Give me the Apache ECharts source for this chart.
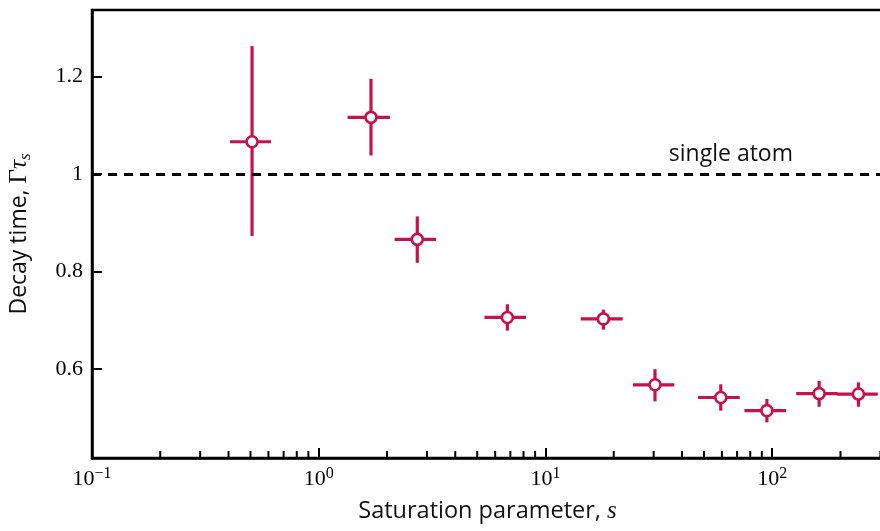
<!DOCTYPE html>
<html>
<head>
    <meta charset="UTF-8">
    <title>Decay time vs saturation</title>
    <script src="https://cdn.jsdelivr.net/npm/echarts@6/dist/echarts.min.js"></script>
    <style>
        html, body { margin: 0; padding: 0; background: #fff; }
        #main { width: 880px; height: 531px; }
    </style>
</head>
<body>
<div id="main"></div>
<script>
    // saturation parameter s (centre, lower, upper)
    var sVal  = [0.508, 1.70, 2.72, 6.79, 18.0, 30.4, 59.3, 94.7, 161, 240];
    var sLow  = [0.406, 1.34, 2.16, 5.38, 14.3, 24.3, 47.1, 75.4, 127.5, 193];
    var sHigh = [0.616, 2.06, 3.29, 8.21, 21.9, 37.0, 71.9, 115.2, 194, 292];
    // decay time (centre, lower, upper)
    var tauVal  = [1.066, 1.116, 0.866, 0.706, 0.703, 0.568, 0.542, 0.515, 0.550, 0.549];
    var tauLow  = [0.873, 1.038, 0.818, 0.679, 0.681, 0.534, 0.515, 0.491, 0.523, 0.523];
    var tauHigh = [1.262, 1.195, 0.913, 0.733, 0.722, 0.600, 0.569, 0.539, 0.576, 0.573];
    // minor ticks of the log axis
    var minorTicks = [0.2, 0.3, 0.4, 0.5, 0.6, 0.7, 0.8, 0.9,
        2, 3, 4, 5, 6, 7, 8, 9,
        20, 30, 40, 50, 60, 70, 80, 90,
        200, 300];
    var yLabels = [0.6, 0.8, 1, 1.2];
    var singleAtom = 1;

    var red = '#c8114b';
    var yMin = 0.418, yMax = 1.336;

    var barData = [], pointData = [];
    for (var i = 0; i < sVal.length; i++) {
        barData.push([sVal[i], tauVal[i], sLow[i], sHigh[i], tauLow[i], tauHigh[i]]);
        pointData.push([sVal[i], tauVal[i]]);
    }

    var myChart = echarts.init(document.getElementById('main'));
    var option = {
        animation: false,
        backgroundColor: '#fff',
        grid: {
            left: 92, top: 10, right: -3, bottom: 73,
            show: true, borderColor: '#000', borderWidth: 2.5,
            containLabel: false, outerBoundsMode: 'none'
        },
        xAxis: {
            type: 'log',
            min: 0.1,
            max: 308,
            name: '{a|Saturation parameter, }{s|s}',
            nameLocation: 'middle',
            nameGap: 41,
            nameTextStyle: {
                rich: {
                    a: {fontFamily: 'Open Sans', fontSize: 23.5, color: '#111'},
                    s: {fontFamily: 'Liberation Serif', fontStyle: 'italic', fontSize: 25, color: '#111'}
                }
            },
            axisLine: {onZero: false, lineStyle: {color: '#000', width: 2.5}},
            axisTick: {inside: true, length: 10, lineStyle: {color: '#000', width: 2}},
            splitLine: {show: false},
            axisLabel: {
                margin: 8,
                formatter: function (v) {
                    var e = Math.log10(v), r = Math.round(e);
                    if (Math.abs(e - r) > 1e-6) return '';
                    return '{b|10}{s|' + (r < 0 ? '\u2212' + (-r) : r) + '}';
                },
                rich: {
                    b: {fontFamily: 'Liberation Serif', fontSize: 22, color: '#000', lineHeight: 26},
                    s: {fontFamily: 'Liberation Serif', fontSize: 16, color: '#000', lineHeight: 16, verticalAlign: 'top'}
                }
            }
        },
        yAxis: {
            type: 'value',
            min: yMin,
            max: yMax,
            splitNumber: 5,
            name: '{a|Decay time, }{g|Γ}{t|τ}{s|s}',
            nameLocation: 'middle',
            nameGap: 58,
            nameTextStyle: {
                rich: {
                    a: {fontFamily: 'Open Sans', fontSize: 23, color: '#111', lineHeight: 30},
                    g: {fontFamily: 'Liberation Serif', fontSize: 25, color: '#111', lineHeight: 30},
                    t: {fontFamily: 'Liberation Serif', fontStyle: 'italic', fontSize: 25, color: '#111', lineHeight: 30},
                    s: {fontFamily: 'Liberation Serif', fontStyle: 'italic', fontSize: 17, color: '#111', lineHeight: 15, verticalAlign: 'bottom'}
                }
            },
            axisLine: {lineStyle: {color: '#000', width: 2.5}},
            axisTick: {inside: true, length: 10, lineStyle: {color: '#000', width: 2}},
            splitLine: {show: false},
            axisLabel: {
                margin: 9,
                fontFamily: 'Liberation Serif',
                fontSize: 22,
                color: '#000',
                formatter: function (v) {
                    for (var k = 0; k < yLabels.length; k++) {
                        if (Math.abs(v - yLabels[k]) < 1e-6) return String(yLabels[k]);
                    }
                    return '';
                }
            }
        },
        series: [
            {
                // minor ticks on the bottom axis
                type: 'custom',
                silent: true,
                data: minorTicks.map(function (v) { return [v, yMin]; }),
                renderItem: function (params, api) {
                    var p = api.coord([api.value(0), api.value(1)]);
                    return {
                        type: 'line',
                        shape: {x1: p[0], y1: p[1], x2: p[0], y2: p[1] - 7},
                        style: {stroke: '#000', lineWidth: 2}
                    };
                },
                z: 1
            },
            {
                // error bars
                type: 'custom',
                silent: true,
                data: barData,
                renderItem: function (params, api) {
                    var l = api.coord([api.value(2), api.value(1)]);
                    var r = api.coord([api.value(3), api.value(1)]);
                    var b = api.coord([api.value(0), api.value(4)]);
                    var t = api.coord([api.value(0), api.value(5)]);
                    var st = {stroke: red, lineWidth: 3.2};
                    return {
                        type: 'group',
                        children: [
                            {type: 'line', shape: {x1: l[0], y1: l[1], x2: r[0], y2: r[1]}, style: st},
                            {type: 'line', shape: {x1: b[0], y1: b[1], x2: t[0], y2: t[1]}, style: st}
                        ]
                    };
                },
                markLine: {
                    silent: true,
                    symbol: 'none',
                    lineStyle: {color: '#000', width: 3, type: [9, 7]},
                    label: {
                        show: true,
                        position: 'insideEndTop',
                        distance: [90, 8],
                        formatter: 'single atom',
                        fontFamily: 'Open Sans',
                        fontSize: 23,
                        color: '#111'
                    },
                    data: [{yAxis: singleAtom}]
                },
                z: 3
            },
            {
                type: 'scatter',
                data: pointData,
                symbol: 'circle',
                symbolSize: 11,
                itemStyle: {color: '#fff', borderColor: red, borderWidth: 2.6, opacity: 1},
                z: 4
            }
        ]
    };
    myChart.setOption(option);
</script>
</body>
</html>
